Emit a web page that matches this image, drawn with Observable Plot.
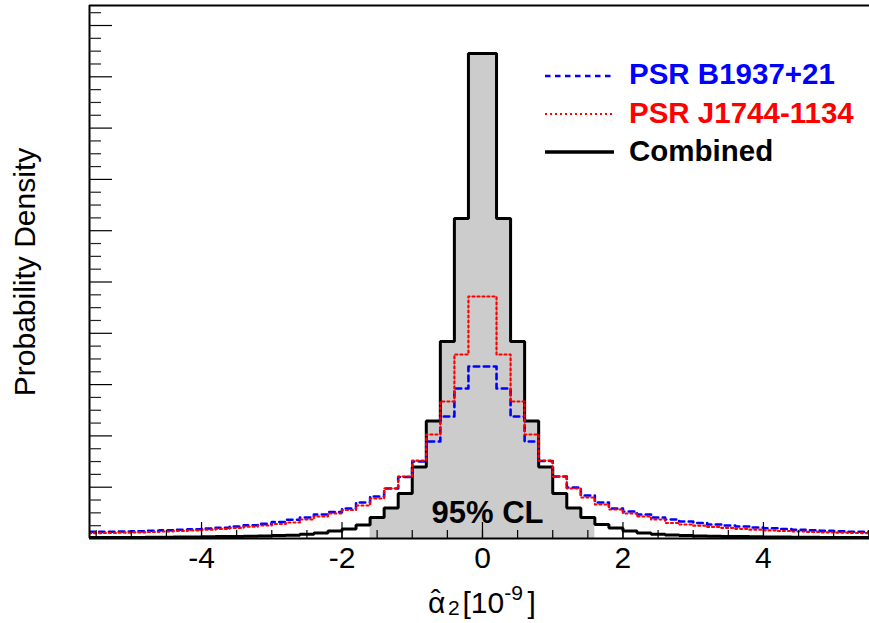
<!DOCTYPE html>
<html><head><meta charset="utf-8">
<script src="https://cdn.jsdelivr.net/npm/d3@7"></script>
<script src="https://cdn.jsdelivr.net/npm/@observablehq/plot@0.6"></script>
<style>html,body{margin:0;padding:0;background:#fff;overflow:hidden;} svg{display:block;}</style>
</head><body><div id="chart"></div>
<script>
// Histogram bin edges (alpha_2 hat, units of 1e-9)
const binEdges = [-5.6,-5.4,-5.2,-5.0,-4.8,-4.6,-4.4,-4.2,-4.0,-3.8,-3.6,-3.4,-3.2,-3.0,-2.8,-2.6,-2.4,-2.2,-2.0,-1.8,-1.6,-1.4,-1.2,-1.0,-0.8,-0.6,-0.4,-0.2,
  0,0.2,0.4,0.6,0.8,1.0,1.2,1.4,1.6,1.8,2.0,2.2,2.4,2.6,2.8,3.0,3.2,3.4,3.6,3.8,4.0,4.2,4.4,4.6,4.8,5.0,5.2,5.4,5.6];

// Probability density per bin (arbitrary units, 1 = one major y tick)
const psrB1937 = [0.129,0.133,0.136,0.142,0.150,0.160,0.170,0.181,0.195,0.211,0.234,0.257,0.285,0.322,0.366,0.409,0.468,0.517,0.585,0.702,0.819,0.975,1.199,1.501,1.891,2.378,2.924,3.353,
  3.353,2.924,2.378,1.891,1.511,1.209,0.994,0.838,0.702,0.585,0.526,0.468,0.409,0.370,0.331,0.302,0.273,0.253,0.234,0.214,0.199,0.185,0.172,0.160,0.148,0.138,0.133,0.129];
const psrJ1744 = [0.103,0.107,0.113,0.119,0.127,0.136,0.146,0.158,0.172,0.187,0.207,0.230,0.253,0.283,0.312,0.370,0.429,0.487,0.556,0.643,0.780,0.975,1.209,1.520,2.027,2.671,3.587,4.717,
  4.717,3.587,2.671,2.027,1.520,1.209,0.975,0.799,0.663,0.565,0.487,0.429,0.370,0.302,0.273,0.250,0.226,0.207,0.189,0.173,0.158,0.146,0.136,0.129,0.121,0.113,0.107,0.103];
const combined = [0.019,0.019,0.021,0.021,0.023,0.025,0.027,0.029,0.033,0.037,0.041,0.045,0.051,0.057,0.064,0.082,0.107,0.146,0.185,0.263,0.409,0.595,0.877,1.394,2.290,3.840,6.238,9.454,
  9.454,6.238,3.840,2.290,1.394,0.877,0.595,0.409,0.273,0.205,0.146,0.107,0.082,0.068,0.058,0.051,0.045,0.041,0.037,0.033,0.029,0.027,0.025,0.023,0.021,0.021,0.019,0.019];

const clLimit = 1.6; // 95% CL interval half-width
const xTickLabels = [-4,-2,0,2,4];
const xMinorTicks = [-5.5,-5,-4.5,-4,-3.5,-3,-2.5,-2,-1.5,-1,-0.5,0,0.5,1,1.5,2,2.5,3,3.5,4,4.5,5,5.5];
const yMajorTicks = [1,2,3,4,5,6,7,8,9,10];
const yMinorTicks = [0.25,0.5,0.75,1.25,1.5,1.75,2.25,2.5,2.75,3.25,3.5,3.75,4.25,4.5,4.75,5.25,5.5,5.75,6.25,6.5,6.75,7.25,7.5,7.75,8.25,8.5,8.75,9.25,9.5,9.75,10.25];
const legendItems = [
  {label: "PSR B1937+21", color: "#0000ff", dash: "5.5,4.5", width: 2.6},
  {label: "PSR J1744-1134", color: "#ff0000", dash: "2,3", width: 2.2},
  {label: "Combined", color: "#000000", dash: null, width: 3.5}
];

const FONT = "'Liberation Sans', Arial, Helvetica, sans-serif";
const xDomain = [-5.595, 5.51];
const yDomain = [0, 10.39];

const bins = binEdges.slice(0, -1).map((x1, i) => ({x1, x2: binEdges[i + 1], b: psrB1937[i], j: psrJ1744[i], c: combined[i]}));
const stepsOf = (arr, key) => arr.map(d => ({x: d.x1, y: d[key]})).concat([{x: arr[arr.length - 1].x2, y: arr[arr.length - 1][key]}]);
const clBins = bins.filter(d => d.x1 >= -clLimit - 1e-9 && d.x2 <= clLimit + 1e-9);

const W = 869, H = 623, mL = 89, mR = 0, mT = 5, mB = 85;
const fw = W - mL - mR, fh = H - mT - mB;

const chart = Plot.plot({
  width: W, height: H,
  marginLeft: mL, marginRight: mR, marginTop: mT, marginBottom: mB,
  x: {domain: xDomain},
  y: {domain: yDomain, axis: null},
  style: {fontFamily: FONT, background: "white", overflow: "hidden", color: "black"},
  marks: [
    Plot.areaY(stepsOf(clBins, "c"), {x: "x", y: "y", curve: "step-after", fill: "#cccccc"}),
    Plot.line(stepsOf(bins, "c"), {x: "x", y: "y", curve: "step-after", stroke: "#000", strokeWidth: 3, strokeLinejoin: "miter", clip: true}),
    Plot.line(stepsOf(bins, "b"), {x: "x", y: "y", curve: "step-after", stroke: "#0000ff", strokeWidth: 2.6, strokeDasharray: "5.5,4.5", clip: true}),
    Plot.line(stepsOf(bins, "j"), {x: "x", y: "y", curve: "step-after", stroke: "#ff0000", strokeWidth: 2.2, strokeDasharray: "2,3", clip: true}),
    // frame
    Plot.ruleY([yDomain[0]], {stroke: "#000", strokeWidth: 2}),
    Plot.ruleY([yDomain[1]], {stroke: "#000", strokeWidth: 2}),
    Plot.ruleX([xDomain[0]], {stroke: "#000", strokeWidth: 2}),
    // ticks (inward, ROOT style)
    Plot.tickX(xMinorTicks, {x: d => d, insetTop: fh - 8, stroke: "#000", strokeWidth: 1.2}),
    Plot.tickX(xTickLabels, {x: d => d, insetTop: fh - 16, stroke: "#000", strokeWidth: 1.2}),
    Plot.tickY(yMinorTicks, {y: d => d, insetRight: fw - 12, stroke: "#222", strokeWidth: 1.2}),
    Plot.tickY(yMajorTicks, {y: d => d, insetRight: fw - 23, stroke: "#000", strokeWidth: 1.2}),
    Plot.axisX(xTickLabels, {tickSize: 0, tickPadding: 8, fontSize: 30, tickFormat: d => String(d), label: null})
  ]
});

document.getElementById("chart").appendChild(chart);
const svg = d3.select(chart);
const g = svg.append("g").attr("font-family", FONT).attr("fill", "#000").attr("text-anchor", "start");

// y title
g.append("text").attr("transform", "translate(34.5,272) rotate(-90)")
  .attr("text-anchor", "middle").attr("font-size", 30).text("Probability Density");

// x title: hat-alpha_2 [10^-9]
const xt = g.append("text").attr("x", 428).attr("y", 612.5).attr("font-size", 30);
xt.append("tspan").text("α");
xt.append("tspan").attr("dx", -14.5).attr("dy", -3).text("ˆ");
xt.append("tspan").attr("x", 448).attr("dy", 5.5).attr("font-size", 21).text("2");
xt.append("tspan").attr("x", 462.5).attr("dy", -2.5).text("[10");
xt.append("tspan").attr("dy", -12.5).attr("font-size", 21).text("-9");
xt.append("tspan").attr("x", 527.5).attr("dy", 12.5).text("]");

// 95% CL label
g.append("text").attr("x", 487.5).attr("y", 522.5).attr("text-anchor", "middle")
  .attr("font-size", 31).attr("font-weight", "bold").text("95% CL");

// legend
const rowY = [76, 114, 152];
const baseY = [83.5, 123, 161];
legendItems.forEach((it, i) => {
  const l = g.append("line").attr("x1", 545).attr("x2", 614).attr("y1", rowY[i]).attr("y2", rowY[i])
    .attr("stroke", it.color).attr("stroke-width", it.width);
  if (it.dash) l.attr("stroke-dasharray", it.dash);
  g.append("text").attr("x", 629).attr("y", baseY[i]).attr("font-size", 29.5).attr("font-weight", "bold")
    .attr("fill", it.color).text(it.label);
});
</script>
</body></html>
